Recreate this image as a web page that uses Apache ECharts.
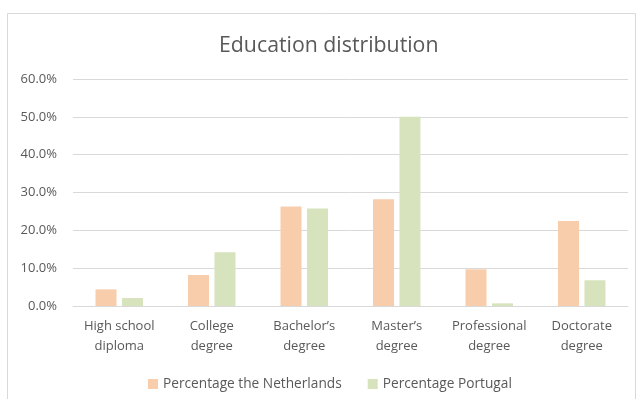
<!DOCTYPE html>
<html>
<head>
<meta charset="utf-8">
<script src="https://cdn.jsdelivr.net/npm/echarts@6/dist/echarts.min.js"></script>
<style>
html,body{margin:0;padding:0;background:#fff;}
#chart{width:640px;height:399px;}
</style>
</head>
<body>
<div id="chart"></div>
<script>
const categories = ["High school\ndiploma", "College\ndegree", "Bachelor\u2019s\ndegree", "Master\u2019s\ndegree", "Professional\ndegree", "Doctorate\ndegree"];
const seriesNames = ["Percentage the Netherlands", "Percentage Portugal"];
const netherlands = [0.044, 0.082, 0.263, 0.282, 0.097, 0.225];
const portugal = [0.021, 0.142, 0.258, 0.500, 0.007, 0.068];
const yTicks = [0, 0.1, 0.2, 0.3, 0.4, 0.5, 0.6];

const chart = echarts.init(document.getElementById('chart'));
const font = "'Open Sans', 'Noto Sans', sans-serif";
chart.setOption({
  animation: false,
  backgroundColor: '#ffffff',
  textStyle: { fontFamily: font },
  graphic: [{
    type: 'rect',
    shape: { x: 7.5, y: 13.5, width: 628, height: 400 },
    style: { fill: 'none', stroke: '#d9d9d9', lineWidth: 1 },
    silent: true
  }],
  title: {
    text: 'Education distribution',
    left: 214,
    top: 30,
    textStyle: { fontFamily: font, fontSize: 21.3, fontWeight: 'normal', color: '#595959' }
  },
  legend: {
    bottom: 3,
    left: 143,
    itemWidth: 10,
    itemHeight: 10,
    itemGap: 26,
    icon: 'rect',
    textStyle: { fontFamily: font, fontSize: 13.7, color: '#595959' },
    data: seriesNames
  },
  grid: { left: 73, right: 12, top: 79, bottom: 93 },
  xAxis: {
    type: 'category',
    data: categories,
    axisLine: { lineStyle: { color: '#d9d9d9', width: 1 } },
    axisTick: { show: false },
    axisLabel: { color: '#595959', fontSize: 13, lineHeight: 20, margin: 10, interval: 0 }
  },
  yAxis: {
    type: 'value',
    min: yTicks[0],
    max: yTicks[yTicks.length - 1],
    interval: 0.1,
    axisLine: { show: false },
    axisTick: { show: false },
    splitLine: { lineStyle: { color: '#d9d9d9', width: 1 } },
    axisLabel: {
      color: '#595959', fontSize: 13, margin: 16,
      formatter: v => (v * 100).toFixed(1) + '%'
    }
  },
  series: [
    { name: seriesNames[0], type: 'bar', data: netherlands, barWidth: 21, barGap: '26%', itemStyle: { color: '#F8CDAB' } },
    { name: seriesNames[1], type: 'bar', data: portugal, barWidth: 21, itemStyle: { color: '#D7E3BC' } }
  ]
});
</script>
</body>
</html>
